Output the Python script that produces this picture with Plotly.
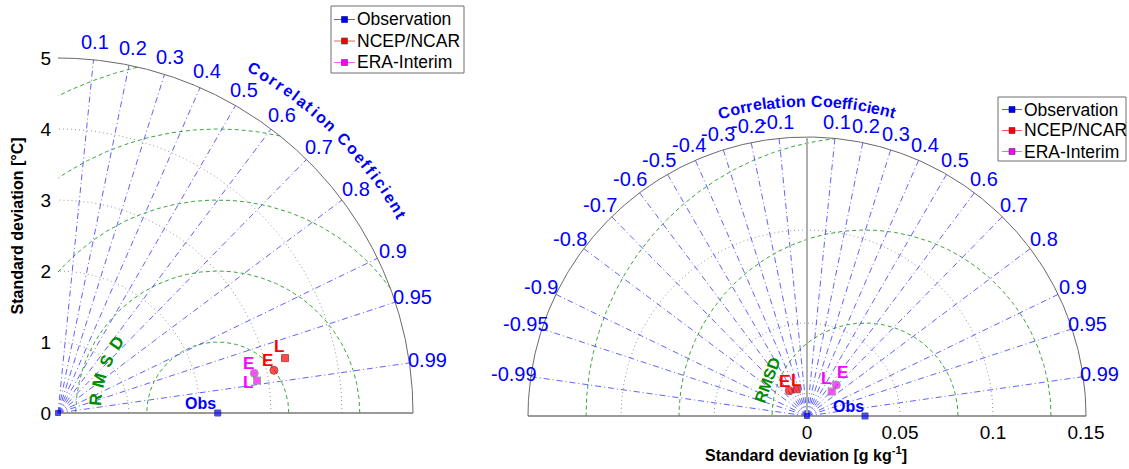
import numpy as np
import plotly.graph_objects as go

W, H = 1129, 469
FONT = "Liberation Sans, Arial, sans-serif"

# ---------------- data ----------------
models = ["NCEP/NCAR", "ERA-Interim"]
model_colors = ["rgb(255,0,0)", "rgb(255,0,255)"]
model_edges = ["rgb(150,0,0)", "rgb(120,120,120)"]
legend_names = ["Observation", "NCEP/NCAR", "ERA-Interim"]
legend_colors = ["rgb(0,0,255)", "rgb(255,0,0)", "rgb(255,0,255)"]
legend_lines = ["rgb(90,90,255)", "rgb(255,90,90)", "rgb(255,90,255)"]

# left panel: temperature [°C]
left_std_ticks = [0, 1, 2, 3, 4, 5]
left_std_grid = [1, 2, 3, 4]
left_rmsd_grid = [1, 2, 3, 4, 5]
left_corr_ticks = [0.1, 0.2, 0.3, 0.4, 0.5, 0.6, 0.7, 0.8, 0.9, 0.95, 0.99]
left_obs_std = 2.25
left_E_std = [3.10, 2.82]
left_E_corr = [0.981, 0.980]
left_L_std = [3.29, 2.84]
left_L_corr = [0.972, 0.987]

# right panel: specific humidity [g/kg]
right_std_ticks = [0, 0.05, 0.1, 0.15]
right_std_ticklabels = ["0", "0.05", "0.1", "0.15"]
right_std_grid = [0.05, 0.1]
right_rmsd_grid = [0.05, 0.1, 0.15]
right_corr_ticks = [-0.99, -0.95, -0.9, -0.8, -0.7, -0.6, -0.5, -0.4, -0.3, -0.2, -0.1,
                    0.1, 0.2, 0.3, 0.4, 0.5, 0.6, 0.7, 0.8, 0.9, 0.95, 0.99]
right_obs_std = 0.0312
right_E_std = [0.0166, 0.0230]
right_E_corr = [-0.572, 0.687]
right_L_std = [0.0154, 0.0187]
right_L_corr = [-0.357, 0.712]

# ---------------- layout geometry (pixels) ----------------
L_ORIG, L_PPU, L_DOM = (58, 413), 71.0, (0, 480)
R_ORIG, R_PPU, R_DOM = (807, 416), 1860.0, (480, W)


def ranges(orig, ppu, dom):
    xr = [(dom[0] - orig[0]) / ppu, (dom[1] - orig[0]) / ppu]
    yr = [(orig[1] - H) / ppu, orig[1] / ppu]
    return xr, yr


def pol(s, c):
    s = np.asarray(s, float)
    c = np.asarray(c, float)
    return s * c, s * np.sqrt(1 - c ** 2)


def tolist(a):
    return [None if (v is None or not np.isfinite(v)) else float(v) for v in a]


def px(x):
    return x / W


def py(y):
    return 1 - y / H


fig = go.Figure()
annotations = []
shapes = []

BLUE_LINE = "rgba(70,70,255,0.85)"
GREEN = "rgb(60,165,60)"
GRAY_DOT = "rgb(150,150,150)"
TXT_BLUE = "rgb(0,0,255)"
TXT_GREEN = "rgb(0,140,0)"

BOLD_W = {'C': 722, 'o': 611, 'r': 389, 'e': 556, 'l': 278, 'a': 556, 't': 333,
          'i': 278, 'n': 611, ' ': 278, 'f': 333, 'c': 556}


def curved_text(text, xr, yr, R, ppu, theta_c, size, spacing, color):
    ws = [BOLD_W[ch] * size / 1000 for ch in text]
    Ltot = sum(ws) + spacing * (len(text) - 1)
    pos = 0.0
    out = []
    for ch, w in zip(text, ws):
        center = pos + w / 2
        pos += w + spacing
        if ch == " ":
            continue
        th = np.radians(theta_c) - (center - Ltot / 2) / (R * ppu)
        out.append(dict(x=R * np.cos(th), y=R * np.sin(th), xref=xr, yref=yr, text=ch,
                        textangle=90 - np.degrees(th), showarrow=False,
                        xanchor="center", yanchor="middle",
                        font=dict(family=FONT, size=size, color=color, weight="bold")))
    return out


def panel(xa, ya, rmax, std_grid, rmsd_grid, corr_ticks, obs, full, ppu,
          E_std, E_corr, L_std, L_corr, label_R, title_R, title_theta, title_sp):
    th_max = np.pi if full else np.pi / 2
    # std grid arcs (dotted)
    xs, ys = [], []
    for s in std_grid:
        t = np.linspace(0, th_max, 300)
        xs += list(s * np.cos(t)) + [None]
        ys += list(s * np.sin(t)) + [None]
    fig.add_trace(go.Scatter(x=xs, y=ys, xaxis=xa, yaxis=ya, mode="lines", hoverinfo="skip",
                             line=dict(color=GRAY_DOT, width=1, dash="1px,3px"), showlegend=False))
    # RMSD arcs (green dashed) centred on observation
    xs, ys = [], []
    for d in rmsd_grid:
        t = np.linspace(0, np.pi, 900)
        x = obs + d * np.cos(t)
        y = d * np.sin(t)
        r = np.hypot(x, y)
        xmin = -rmax if full else 0
        ok = (r <= rmax * 1.0005) & (x >= xmin)
        x = np.where(ok, x, np.nan)
        y = np.where(ok, y, np.nan)
        xs += tolist(x) + [None]
        ys += tolist(y) + [None]
    fig.add_trace(go.Scatter(x=xs, y=ys, xaxis=xa, yaxis=ya, mode="lines", hoverinfo="skip",
                             line=dict(color=GREEN, width=1, dash="4px,3px"), showlegend=False))
    # correlation rays (blue dash-dot)
    xs, ys = [], []
    for c in corr_ticks:
        ex, ey = pol(rmax, c)
        xs += [0, float(ex), None]
        ys += [0, float(ey), None]
    fig.add_trace(go.Scatter(x=xs, y=ys, xaxis=xa, yaxis=ya, mode="lines", hoverinfo="skip",
                             line=dict(color=BLUE_LINE, width=1, dash="6px,3px,1px,3px"),
                             showlegend=False))
    # outer arc and base line
    t = np.linspace(0, th_max, 400)
    fig.add_trace(go.Scatter(x=list(rmax * np.cos(t)), y=list(rmax * np.sin(t)), xaxis=xa, yaxis=ya,
                             mode="lines", hoverinfo="skip",
                             line=dict(color="rgb(105,105,105)", width=1), showlegend=False))
    fig.add_trace(go.Scatter(x=[-rmax if full else 0, rmax], y=[0, 0], xaxis=xa, yaxis=ya,
                             mode="lines", hoverinfo="skip",
                             line=dict(color="rgb(120,120,120)", width=1.5), showlegend=False))
    if full:
        fig.add_trace(go.Scatter(x=[0, 0], y=[0, rmax], xaxis=xa, yaxis=ya, mode="lines",
                                 hoverinfo="skip", line=dict(color="rgb(175,175,175)", width=2),
                                 showlegend=False))
    # correlation labels
    for c in corr_ticks:
        lx, ly = pol(label_R, c)
        annotations.append(dict(x=float(lx), y=float(ly), xref=xa, yref=ya, text=f"{c:g}",
                                showarrow=False, xanchor="center", yanchor="middle",
                                font=dict(family=FONT, size=20, color=TXT_BLUE)))
    annotations.extend(curved_text("Correlation Coefficient", xa, ya, title_R, ppu,
                                   title_theta, 16, title_sp, TXT_BLUE))
    # observation
    fig.add_trace(go.Scatter(x=[0, obs], y=[0, 0], xaxis=xa, yaxis=ya, mode="markers",
                             marker=dict(symbol="square", size=[5, 6], color="rgb(0,0,255)",
                                         line=dict(color="rgb(0,0,140)", width=1)),
                             showlegend=False, cliponaxis=False))
    annotations.append(dict(x=obs, y=0, xref=xa, yref=ya, text="Obs", showarrow=False,
                            xshift=-17, yshift=10, xanchor="center", yanchor="middle",
                            font=dict(family=FONT, size=16, color=TXT_BLUE, weight="bold")))
    # models
    for i, m in enumerate(models):
        ex, ey = pol(E_std[i], E_corr[i])
        lx, ly = pol(L_std[i], L_corr[i])
        fig.add_trace(go.Scatter(x=[float(ex), float(lx)], y=[float(ey), float(ly)],
                                 xaxis=xa, yaxis=ya, mode="markers", name=m,
                                 marker=dict(symbol=["circle", "square"], size=[8, 7],
                                             color=model_colors[i],
                                             line=dict(color=model_edges[i], width=1)),
                                 showlegend=False))


# label offsets (pixels) for the E / L tags
left_tag_shift = {("NCEP/NCAR", "E"): (-6, 10), ("NCEP/NCAR", "L"): (-6, 12),
                  ("ERA-Interim", "E"): (-6, 10), ("ERA-Interim", "L"): (-9, -2)}
right_tag_shift = {("NCEP/NCAR", "E"): (-5, 9), ("NCEP/NCAR", "L"): (-1, 9),
                   ("ERA-Interim", "L"): (-6, 13), ("ERA-Interim", "E"): (6, 12)}

panel("x", "y", 5, left_std_grid, left_rmsd_grid, left_corr_ticks, left_obs_std, False, L_PPU,
      left_E_std, left_E_corr, left_L_std, left_L_corr, 5.25, 396 / L_PPU, 45.4, 2.1)
panel("x2", "y2", 0.15, right_std_grid, right_rmsd_grid, right_corr_ticks, right_obs_std, True,
      R_PPU, right_E_std, right_E_corr, right_L_std, right_L_corr, 0.159, 315 / R_PPU, 90, 0.3)

for xa, ya, Es, Ec, Ls, Lc, shifts in [("x", "y", left_E_std, left_E_corr, left_L_std, left_L_corr, left_tag_shift),
                                       ("x2", "y2", right_E_std, right_E_corr, right_L_std, right_L_corr, right_tag_shift)]:
    for i, m in enumerate(models):
        for tag, s, c in [("E", Es[i], Ec[i]), ("L", Ls[i], Lc[i])]:
            qx, qy = pol(s, c)
            dx, dy = shifts[(m, tag)]
            annotations.append(dict(x=float(qx), y=float(qy), xref=xa, yref=ya, text=tag,
                                    showarrow=False, xshift=dx, yshift=dy,
                                    xanchor="center", yanchor="middle",
                                    font=dict(family=FONT, size=17, color=model_colors[i],
                                              weight="bold")))

# RMSD labels
for ch, phi in zip("RMSD", [174, 164.5, 155, 145.5]):
    p = np.radians(phi)
    annotations.append(dict(x=left_obs_std + 1.73 * np.cos(p), y=1.73 * np.sin(p), xref="x", yref="y",
                            text=ch, textangle=-(phi - 90), showarrow=False,
                            xanchor="center", yanchor="middle",
                            font=dict(family=FONT, size=17, color=TXT_GREEN, weight="bold")))
p = np.radians(159.6)
annotations.append(dict(x=right_obs_std + 0.0557 * np.cos(p), y=0.0557 * np.sin(p), xref="x2", yref="y2",
                        text="RMSD", textangle=-(159.6 - 90), showarrow=False,
                        xanchor="center", yanchor="middle",
                        font=dict(family=FONT, size=16, color=TXT_GREEN, weight="bold")))

# axis titles
annotations.append(dict(x=px(17.5), y=py(226), xref="paper", yref="paper", showarrow=False,
                        xanchor="center", yanchor="middle",
                        text="Standard deviation [°C]", textangle=-90,
                        font=dict(family=FONT, size=16, color="black", weight="bold")))
annotations.append(dict(x=px(806), y=py(454), xref="paper", yref="paper", showarrow=False,
                        xanchor="center", yanchor="middle",
                        text="Standard deviation [g kg<sup>-1</sup>]",
                        font=dict(family=FONT, size=16, color="black", weight="bold")))


# legends (drawn boxes)
def legend_box(x0, y0, x1, y1, row0, dy, lx0, lx1, tx):
    shapes.append(dict(type="rect", xref="paper", yref="paper", x0=px(x0), x1=px(x1),
                       y0=py(y1), y1=py(y0), line=dict(color="rgb(110,110,110)", width=1),
                       fillcolor="white", layer="above"))
    for k, (nm, col, lc) in enumerate(zip(legend_names, legend_colors, legend_lines)):
        yy = row0 + k * dy
        shapes.append(dict(type="line", xref="paper", yref="paper", x0=px(lx0), x1=px(lx1),
                           y0=py(yy), y1=py(yy), line=dict(color=lc, width=1), layer="above"))
        mx = (lx0 + lx1) / 2
        shapes.append(dict(type="rect", xref="paper", yref="paper", x0=px(mx - 3), x1=px(mx + 3),
                           y0=py(yy + 3), y1=py(yy - 3), fillcolor=col,
                           line=dict(color="rgb(60,60,60)" if k else "rgb(0,0,140)", width=0.6),
                           layer="above"))
        annotations.append(dict(x=px(tx), y=py(yy), xref="paper", yref="paper", text=nm,
                                showarrow=False, xanchor="left", yanchor="middle",
                                font=dict(family=FONT, size=17.5, color="black")))


legend_box(331, 6, 464, 73, 19.5, 21.5, 334, 355, 355)
legend_box(998, 97, 1126, 161, 109.5, 21, 1002, 1022, 1022)

lxr, lyr = ranges(L_ORIG, L_PPU, L_DOM)
rxr, ryr = ranges(R_ORIG, R_PPU, R_DOM)

fig.update_layout(
    width=W, height=H, margin=dict(l=0, r=0, t=0, b=0),
    paper_bgcolor="white", plot_bgcolor="white", showlegend=False,
    xaxis=dict(domain=[L_DOM[0] / W, L_DOM[1] / W], range=lxr, visible=False, anchor="y"),
    yaxis=dict(domain=[0, 1], range=lyr, anchor="free", position=L_ORIG[0] / W,
               tickvals=left_std_ticks, showgrid=False, zeroline=False, showline=False,
               ticks="", ticklabelstandoff=7, tickfont=dict(family=FONT, size=19, color="black")),
    xaxis2=dict(domain=[R_DOM[0] / W, R_DOM[1] / W], range=rxr, anchor="free",
                position=(H - R_ORIG[1]) / H, tickvals=right_std_ticks,
                ticktext=right_std_ticklabels, showgrid=False, zeroline=False, showline=False,
                ticks="", ticklabelstandoff=3, tickfont=dict(family=FONT, size=19, color="black")),
    yaxis2=dict(domain=[0, 1], range=ryr, visible=False, anchor="x2"),
    annotations=annotations,
    shapes=shapes,
)

fig.write_html("out.html")
